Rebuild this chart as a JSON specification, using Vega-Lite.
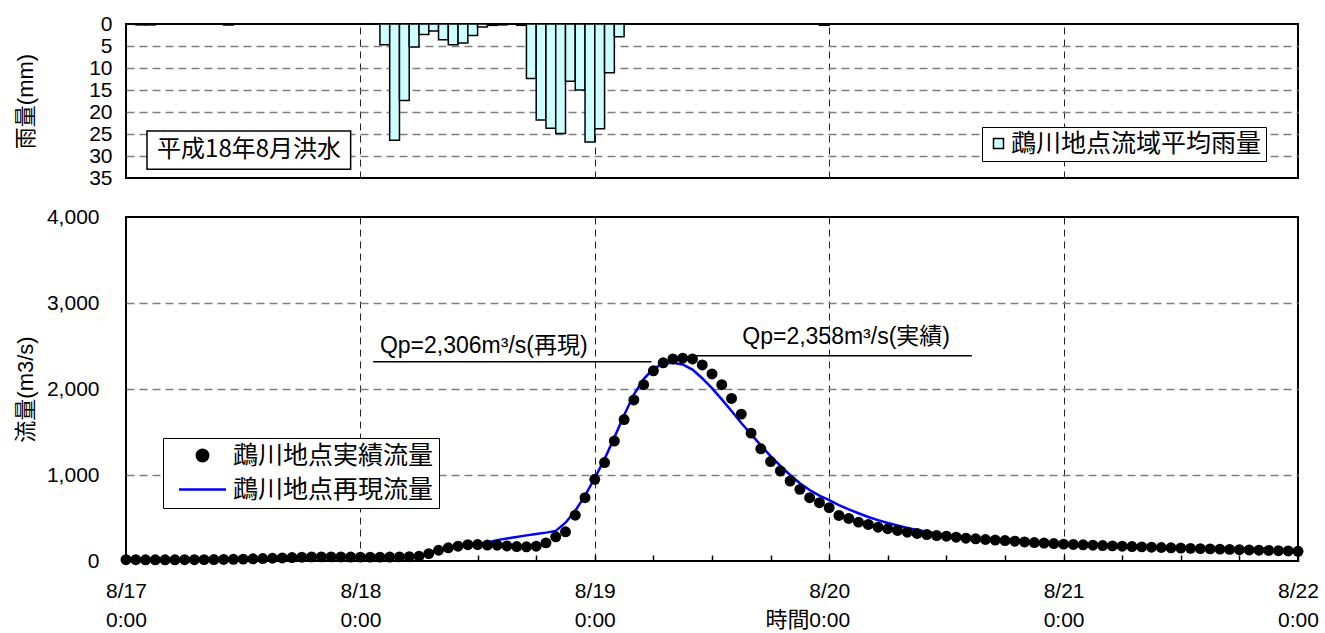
{
  "$schema": "https://vega.github.io/schema/vega-lite/v6.json",
  "background": "white",
  "padding": {"left": 12, "top": 12, "right": 5, "bottom": 0},
  "spacing": 16,
  "config": {
    "font": "Liberation Sans, Noto Sans CJK JP",
    "view": {"stroke": "black", "strokeWidth": 2},
    "axis": {"labelFont": "Liberation Sans", "titleFont": "Liberation Sans, Noto Sans CJK JP", "labelColor": "black", "titleColor": "black", "titleFontWeight": "normal"},
    "legend": {"labelFont": "Noto Sans CJK JP", "labelColor": "black"}
  },
  "resolve": {"scale": {"color": "independent", "fill": "independent"}, "legend": {"color": "independent", "fill": "independent"}},
  "datasets": {
    "rain": [
      {"h": 1, "h_end": 2, "rain": 0.2}, {"h": 2, "h_end": 3, "rain": 0.2}, {"h": 10, "h_end": 11, "rain": 0.2},
      {"h": 26, "h_end": 27, "rain": 4.7}, {"h": 27, "h_end": 28, "rain": 26.4}, {"h": 28, "h_end": 29, "rain": 17.4},
      {"h": 29, "h_end": 30, "rain": 5.2}, {"h": 30, "h_end": 31, "rain": 2.4}, {"h": 31, "h_end": 32, "rain": 1.6},
      {"h": 32, "h_end": 33, "rain": 3.6}, {"h": 33, "h_end": 34, "rain": 4.7}, {"h": 34, "h_end": 35, "rain": 4.3},
      {"h": 35, "h_end": 36, "rain": 2.6}, {"h": 36, "h_end": 37, "rain": 0.7}, {"h": 37, "h_end": 38, "rain": 0.3},
      {"h": 38, "h_end": 39, "rain": 0.2}, {"h": 40, "h_end": 41, "rain": 0.3}, {"h": 41, "h_end": 42, "rain": 12.4},
      {"h": 42, "h_end": 43, "rain": 21.8}, {"h": 43, "h_end": 44, "rain": 23.7}, {"h": 44, "h_end": 45, "rain": 24.9},
      {"h": 45, "h_end": 46, "rain": 13.0}, {"h": 46, "h_end": 47, "rain": 15.0}, {"h": 47, "h_end": 48, "rain": 26.8},
      {"h": 48, "h_end": 49, "rain": 23.8}, {"h": 49, "h_end": 50, "rain": 11.1}, {"h": 50, "h_end": 51, "rain": 2.9},
      {"h": 71, "h_end": 72, "rain": 0.3}
    ],
    "flow": [
      {"h": 0, "obs": 15, "sim": 15}, {"h": 1, "obs": 15, "sim": 15}, {"h": 2, "obs": 14, "sim": 14}, {"h": 3, "obs": 14, "sim": 14},
      {"h": 4, "obs": 14, "sim": 14}, {"h": 5, "obs": 14, "sim": 14}, {"h": 6, "obs": 15, "sim": 15}, {"h": 7, "obs": 15, "sim": 15},
      {"h": 8, "obs": 16, "sim": 16}, {"h": 9, "obs": 17, "sim": 17}, {"h": 10, "obs": 18, "sim": 18}, {"h": 11, "obs": 20, "sim": 20},
      {"h": 12, "obs": 22, "sim": 22}, {"h": 13, "obs": 25, "sim": 25}, {"h": 14, "obs": 28, "sim": 28}, {"h": 15, "obs": 32, "sim": 32},
      {"h": 16, "obs": 36, "sim": 36}, {"h": 17, "obs": 40, "sim": 40}, {"h": 18, "obs": 44, "sim": 44}, {"h": 19, "obs": 47, "sim": 47},
      {"h": 20, "obs": 48, "sim": 48}, {"h": 21, "obs": 48, "sim": 48}, {"h": 22, "obs": 47, "sim": 47}, {"h": 23, "obs": 46, "sim": 46},
      {"h": 24, "obs": 45, "sim": 45}, {"h": 25, "obs": 45, "sim": 45}, {"h": 26, "obs": 45, "sim": 45}, {"h": 27, "obs": 46, "sim": 46},
      {"h": 28, "obs": 48, "sim": 48}, {"h": 29, "obs": 50, "sim": 52}, {"h": 30, "obs": 55, "sim": 60}, {"h": 31, "obs": 86, "sim": 86},
      {"h": 32, "obs": 125, "sim": 122}, {"h": 33, "obs": 153, "sim": 150}, {"h": 34, "obs": 172, "sim": 170}, {"h": 35, "obs": 190, "sim": 185},
      {"h": 36, "obs": 191, "sim": 195}, {"h": 37, "obs": 186, "sim": 215}, {"h": 38, "obs": 184, "sim": 243}, {"h": 39, "obs": 175, "sim": 262},
      {"h": 40, "obs": 168, "sim": 280}, {"h": 41, "obs": 165, "sim": 298}, {"h": 42, "obs": 172, "sim": 315}, {"h": 43, "obs": 211, "sim": 330},
      {"h": 44, "obs": 281, "sim": 350}, {"h": 45, "obs": 340, "sim": 445}, {"h": 46, "obs": 533, "sim": 585}, {"h": 47, "obs": 736, "sim": 760},
      {"h": 48, "obs": 950, "sim": 965}, {"h": 49, "obs": 1145, "sim": 1185}, {"h": 50, "obs": 1395, "sim": 1435}, {"h": 51, "obs": 1645, "sim": 1695},
      {"h": 52, "obs": 1873, "sim": 1935}, {"h": 53, "obs": 2050, "sim": 2115}, {"h": 54, "obs": 2212, "sim": 2235}, {"h": 55, "obs": 2305, "sim": 2295},
      {"h": 56, "obs": 2350, "sim": 2306}, {"h": 57, "obs": 2358, "sim": 2285}, {"h": 58, "obs": 2350, "sim": 2225}, {"h": 59, "obs": 2280, "sim": 2125},
      {"h": 60, "obs": 2175, "sim": 2010}, {"h": 61, "obs": 2050, "sim": 1880}, {"h": 62, "obs": 1890, "sim": 1745}, {"h": 63, "obs": 1708, "sim": 1605},
      {"h": 64, "obs": 1487, "sim": 1475}, {"h": 65, "obs": 1305, "sim": 1345}, {"h": 66, "obs": 1156, "sim": 1220}, {"h": 67, "obs": 1047, "sim": 1105},
      {"h": 68, "obs": 930, "sim": 1000}, {"h": 69, "obs": 833, "sim": 905}, {"h": 70, "obs": 736, "sim": 825}, {"h": 71, "obs": 678, "sim": 760},
      {"h": 72, "obs": 620, "sim": 708}, {"h": 73, "obs": 530, "sim": 650}, {"h": 74, "obs": 495, "sim": 600}, {"h": 75, "obs": 452, "sim": 555},
      {"h": 76, "obs": 425, "sim": 512}, {"h": 77, "obs": 393, "sim": 475}, {"h": 78, "obs": 375, "sim": 442}, {"h": 79, "obs": 355, "sim": 412},
      {"h": 80, "obs": 335, "sim": 385}, {"h": 81, "obs": 320, "sim": 360}, {"h": 82, "obs": 308, "sim": 340}, {"h": 83, "obs": 296, "sim": 320},
      {"h": 84, "obs": 288, "sim": 302}, {"h": 85, "obs": 277, "sim": 287}, {"h": 86, "obs": 265, "sim": 272}, {"h": 87, "obs": 258, "sim": 260},
      {"h": 88, "obs": 250, "sim": 250}, {"h": 89, "obs": 244, "sim": 243}, {"h": 90, "obs": 238, "sim": 236}, {"h": 91, "obs": 230, "sim": 229},
      {"h": 92, "obs": 222, "sim": 222}, {"h": 93, "obs": 215, "sim": 216}, {"h": 94, "obs": 209, "sim": 210}, {"h": 95, "obs": 203, "sim": 204},
      {"h": 96, "obs": 196, "sim": 198}, {"h": 97, "obs": 192, "sim": 193}, {"h": 98, "obs": 188, "sim": 188}, {"h": 99, "obs": 184, "sim": 184},
      {"h": 100, "obs": 180, "sim": 180}, {"h": 101, "obs": 176, "sim": 176}, {"h": 102, "obs": 172, "sim": 172}, {"h": 103, "obs": 168, "sim": 168},
      {"h": 104, "obs": 164, "sim": 164}, {"h": 105, "obs": 160, "sim": 160}, {"h": 106, "obs": 157, "sim": 157}, {"h": 107, "obs": 154, "sim": 154},
      {"h": 108, "obs": 150, "sim": 150}, {"h": 109, "obs": 147, "sim": 147}, {"h": 110, "obs": 144, "sim": 144}, {"h": 111, "obs": 141, "sim": 141},
      {"h": 112, "obs": 138, "sim": 138}, {"h": 113, "obs": 135, "sim": 135}, {"h": 114, "obs": 132, "sim": 132}, {"h": 115, "obs": 129, "sim": 129},
      {"h": 116, "obs": 126, "sim": 126}, {"h": 117, "obs": 123, "sim": 123}, {"h": 118, "obs": 120, "sim": 120}, {"h": 119, "obs": 117, "sim": 117},
      {"h": 120, "obs": 113, "sim": 113}
    ],
    "peakLines": [
      {"h": 25.3, "h_end": 53.8, "q": 2318},
      {"h": 58.4, "h_end": 86.6, "q": 2388}
    ],
    "peakLabels": [
      {"h": 26.0, "q": 2500, "label": "Qp=2,306m³/s(再現)"},
      {"h": 63.1, "q": 2610, "label": "Qp=2,358m³/s(実績)"}
    ],
    "eventBox": [
      {"h": 2.15, "h_end": 23.0, "r1": 24.3, "r2": 33.0, "hc": 12.6, "rc": 28.7, "label": "平成18年8月洪水"}
    ]
  },
  "vconcat": [
    {
      "width": 1172,
      "height": 154,
      "layer": [
        {
          "data": {"name": "rain"},
          "mark": {"type": "bar", "stroke": "black", "strokeWidth": 1.5},
          "encoding": {
            "x": {"field": "h", "type": "quantitative",
                  "scale": {"domain": [0, 120], "nice": false, "zero": false},
                  "axis": {"values": [24, 48, 72, 96], "grid": true, "gridColor": "#222", "gridDash": [7, 5], "gridWidth": 1, "labels": false, "ticks": false, "domain": false, "title": null}},
            "x2": {"field": "h_end"},
            "y": {"field": "rain", "type": "quantitative",
                  "scale": {"domain": [0, 35], "reverse": true, "nice": false},
                  "axis": {"values": [0, 5, 10, 15, 20, 25, 30, 35], "grid": true, "gridColor": "#7f7f7f", "gridDash": [8, 5], "gridWidth": 1.5,
                           "gridOpacity": {"condition": {"test": "datum.value == 0 || datum.value == 35", "value": 0}, "value": 1},
                           "domain": false, "ticks": false, "labelFontSize": 21, "labelPadding": 14, "labelOverlap": false, "labelFlush": false,
                           "title": "雨量(mm)", "titleFontSize": 22, "titleX": -101, "titleY": 77, "titleAlign": "center", "titleBaseline": "middle", "titleAngle": -90}},
            "y2": {"datum": 0},
            "fill": {"datum": "鵡川地点流域平均雨量", "type": "nominal",
                     "scale": {"range": ["#CCFFFF"]},
                     "legend": {"title": null, "orient": "none", "legendX": 856, "legendY": 103,
                                "strokeColor": "black", "fillColor": "white", "padding": 4,
                                "symbolType": "square", "symbolSize": 100, "symbolStrokeColor": "black", "symbolStrokeWidth": 1.5,
                                "symbolOffset": 0, "labelFontSize": 25, "labelOffset": 0, "labelLimit": 500}}
          }
        },
        {
          "data": {"name": "eventBox"},
          "mark": {"type": "rect", "fill": "white", "stroke": "black", "strokeWidth": 1.5},
          "encoding": {
            "x": {"field": "h", "type": "quantitative"},
            "x2": {"field": "h_end"},
            "y": {"field": "r1", "type": "quantitative",
                  "scale": {"domain": [0, 35], "reverse": true, "nice": false},
                  "axis": {"values": [0, 5, 10, 15, 20, 25, 30, 35], "grid": true, "gridColor": "#7f7f7f", "gridDash": [8, 5], "gridWidth": 1.5,
                           "gridOpacity": {"condition": {"test": "datum.value == 0 || datum.value == 35", "value": 0}, "value": 1},
                           "domain": false, "ticks": false, "labelFontSize": 21, "labelPadding": 14, "labelOverlap": false, "labelFlush": false,
                           "title": "雨量(mm)", "titleFontSize": 22, "titleX": -101, "titleY": 77, "titleAlign": "center", "titleBaseline": "middle", "titleAngle": -90}},
            "y2": {"field": "r2"}
          }
        },
        {
          "data": {"name": "eventBox"},
          "mark": {"type": "text", "font": "Noto Sans CJK JP", "fontSize": 24, "align": "center", "baseline": "middle", "color": "black"},
          "encoding": {
            "x": {"field": "hc", "type": "quantitative"},
            "y": {"field": "rc", "type": "quantitative",
                  "scale": {"domain": [0, 35], "reverse": true, "nice": false},
                  "axis": {"values": [0, 5, 10, 15, 20, 25, 30, 35], "grid": true, "gridColor": "#7f7f7f", "gridDash": [8, 5], "gridWidth": 1.5,
                           "gridOpacity": {"condition": {"test": "datum.value == 0 || datum.value == 35", "value": 0}, "value": 1},
                           "domain": false, "ticks": false, "labelFontSize": 21, "labelPadding": 14, "labelOverlap": false, "labelFlush": false,
                           "title": "雨量(mm)", "titleFontSize": 22, "titleX": -101, "titleY": 77, "titleAlign": "center", "titleBaseline": "middle", "titleAngle": -90}},
            "text": {"field": "label"}
          }
        }
      ]
    },
    {
      "width": 1172,
      "height": 344,
      "layer": [
        {
          "data": {"name": "flow"},
          "mark": {"type": "line", "strokeWidth": 2.5},
          "encoding": {
            "x": {"field": "h", "type": "quantitative",
                  "scale": {"domain": [0, 120], "nice": false, "zero": false},
                  "axis": {"values": [0, 6, 12, 18, 24, 30, 36, 42, 48, 54, 60, 66, 72, 78, 84, 90, 96, 102, 108, 114, 120],
                           "grid": true, "gridColor": "#222", "gridDash": [7, 5], "gridWidth": 1,
                           "gridOpacity": {"condition": {"test": "datum.value % 24 == 0 && datum.value > 0 && datum.value < 120", "value": 1}, "value": 0},
                           "domain": false, "ticks": true, "offset": -6, "tickSize": 6, "tickColor": "black", "tickWidth": 1.5,
                           "labelExpr": "datum.value % 24 == 0 ? ['8/' + (17 + datum.value / 24), '0:00'] : ''",
                           "labelFontSize": 21, "labelBaseline": "top", "labelPadding": 19, "labelLineHeight": 29, "labelFlush": false, "labelOverlap": false,
                           "title": "時間", "titleFontSize": 22, "titleX": 661, "titleY": 64, "titleAlign": "center", "titleBaseline": "middle"}},
            "y": {"field": "sim", "type": "quantitative",
                  "scale": {"domain": [0, 4000], "nice": false},
                  "axis": {"values": [0, 1000, 2000, 3000, 4000], "format": ",d", "grid": true, "gridColor": "#7f7f7f", "gridDash": [8, 5], "gridWidth": 1.5,
                           "gridOpacity": {"condition": {"test": "datum.value == 0 || datum.value == 4000", "value": 0}, "value": 1},
                           "domain": false, "ticks": false, "labelFontSize": 21, "labelPadding": 27, "labelOverlap": false, "labelFlush": false,
                           "title": "流量(m3/s)", "titleFontSize": 22, "titleX": -101, "titleY": 172, "titleAlign": "center", "titleBaseline": "middle", "titleAngle": -90}},
            "color": {"datum": "鵡川地点再現流量", "type": "nominal",
                      "scale": {"domain": ["鵡川地点実績流量", "鵡川地点再現流量"], "range": ["black", "#0000FF"]},
                      "legend": {"title": null, "orient": "none", "legendX": 37, "legendY": 221,
                                 "strokeColor": "black", "fillColor": "white", "padding": 5,
                                 "symbolSize": 900, "symbolOffset": 22, "labelFontSize": 25, "labelOffset": 18, "labelLimit": 500, "rowPadding": 8,
                                 "encode": {"symbols": {"update": {
                                   "shape": {"signal": "datum.value === '鵡川地点再現流量' ? 'stroke' : 'circle'"},
                                   "size": {"signal": "datum.value === '鵡川地点再現流量' ? 2209 : 130"},
                                   "strokeWidth": {"value": 2.5},
                                   "fill": {"signal": "datum.value === '鵡川地点再現流量' ? 'transparent' : 'black'"},
                                   "stroke": {"signal": "datum.value === '鵡川地点再現流量' ? '#0000FF' : 'black'"},
                                   "opacity": {"value": 1}, "fillOpacity": {"value": 1}, "strokeOpacity": {"value": 1}
                                 }}}}}
          }
        },
        {
          "data": {"name": "flow"},
          "mark": {"type": "point", "filled": true, "size": 120, "opacity": 1},
          "encoding": {
            "x": {"field": "h", "type": "quantitative"},
            "y": {"field": "obs", "type": "quantitative"},
            "color": {"datum": "鵡川地点実績流量", "type": "nominal"}
          }
        },
        {
          "data": {"name": "peakLines"},
          "mark": {"type": "rule", "color": "black", "strokeWidth": 1.5},
          "encoding": {
            "x": {"field": "h", "type": "quantitative"},
            "x2": {"field": "h_end"},
            "y": {"field": "q", "type": "quantitative"}
          }
        },
        {
          "data": {"name": "peakLabels"},
          "mark": {"type": "text", "fontSize": 23, "align": "left", "baseline": "middle", "color": "black", "font": "Liberation Sans, Noto Sans CJK JP"},
          "encoding": {
            "x": {"field": "h", "type": "quantitative"},
            "y": {"field": "q", "type": "quantitative"},
            "text": {"field": "label"}
          }
        }
      ]
    }
  ]
}
